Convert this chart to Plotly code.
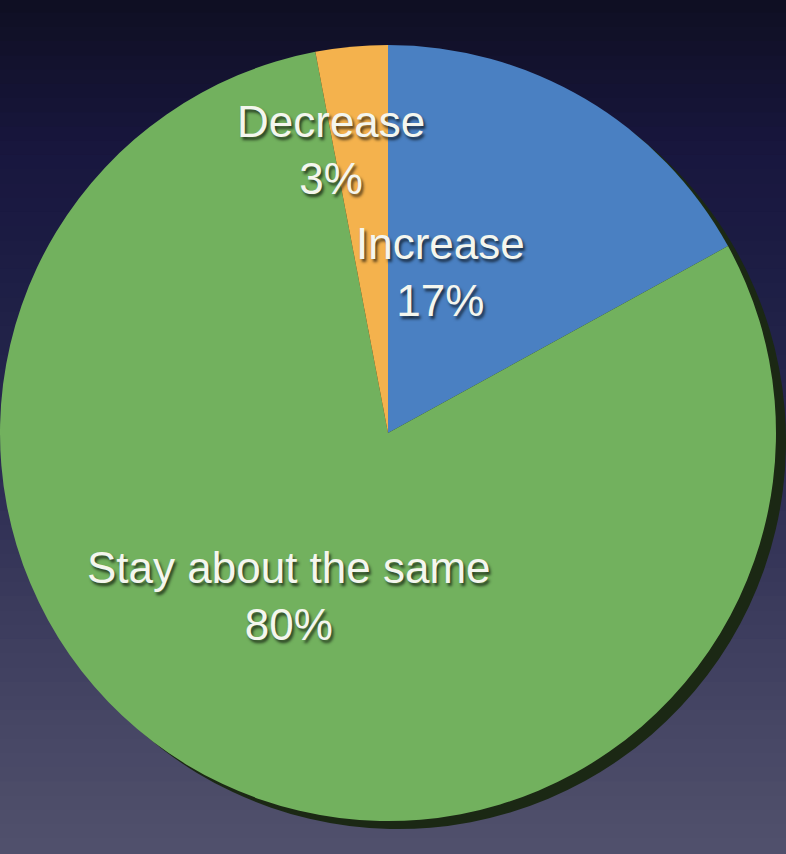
import plotly.graph_objects as go

# Survey answers and their shares (percent)
labels = ["Increase", "Stay about the same", "Decrease"]
values = [17, 80, 3]
slice_colors = ["#4a80c2", "#72b15e", "#f4b24d"]

# Label anchor points (paper coords) for each slice's caption
label_x = [440 / 786, 289 / 786, 331 / 786]
label_y = [1 - 272 / 854, 1 - 596 / 854, 1 - 150 / 854]

W, H = 786, 854

fig = go.Figure()

# soft dark rim on the right / lower edge of the disc
fig.add_trace(go.Pie(
    labels=labels, values=values, sort=False, direction="clockwise",
    marker=dict(colors=["#1b2814"] * 3, line=dict(width=0)),
    textinfo="none", hoverinfo="skip", showlegend=False,
    domain=dict(x=[10 / W, 1.0], y=[(H - 435 - 6 - 388) / H, (H - 435 - 6 + 388) / H]),
))

# main pie
fig.add_trace(go.Pie(
    labels=labels, values=values, sort=False, direction="clockwise",
    marker=dict(colors=slice_colors, line=dict(width=0)),
    textinfo="none", showlegend=False,
    domain=dict(x=[0.0, 776 / W], y=[(H - 433 - 388) / H, (H - 433 + 388) / H]),
))

# slice captions: name plus percentage
total = sum(values)
for lab, val, x, y in zip(labels, values, label_x, label_y):
    fig.add_annotation(
        x=x, y=y, xref="paper", yref="paper", showarrow=False,
        text=f"{lab}<br>{round(100 * val / total)}%",
        font=dict(family="Liberation Sans, Arial, sans-serif", size=44,
                  color="#f4f6ee", shadow="2px 3px 3px rgba(0,0,0,0.65)"),
        align="center", xanchor="center", yanchor="middle",
    )

# vertical background gradient built from thin bands
stops = [(0.0, (15, 15, 34)), (0.18, (24, 22, 62)), (0.35, (30, 31, 70)),
         (0.52, (42, 42, 80)), (0.70, (58, 58, 92)), (0.86, (71, 71, 101)),
         (1.0, (81, 81, 108))]


def color_at(t):
    for (t0, c0), (t1, c1) in zip(stops[:-1], stops[1:]):
        if t0 <= t <= t1:
            f = (t - t0) / (t1 - t0)
            return "rgb(%d,%d,%d)" % tuple(round(a + (b - a) * f) for a, b in zip(c0, c1))
    return "rgb(%d,%d,%d)" % stops[-1][1]


n_bands = 60
shapes = []
for i in range(n_bands):
    t = (i + 0.5) / n_bands
    shapes.append(dict(
        type="rect", xref="paper", yref="paper", layer="below",
        x0=0, x1=1, y0=1 - (i + 1) / n_bands - 0.002, y1=1 - i / n_bands + 0.002,
        fillcolor=color_at(t), line=dict(width=0),
    ))

fig.update_layout(
    width=W, height=H,
    margin=dict(l=0, r=0, t=0, b=0),
    paper_bgcolor="#2a2a50",
    plot_bgcolor="rgba(0,0,0,0)",
    shapes=shapes,
    showlegend=False,
)

fig.write_html("out.html")
